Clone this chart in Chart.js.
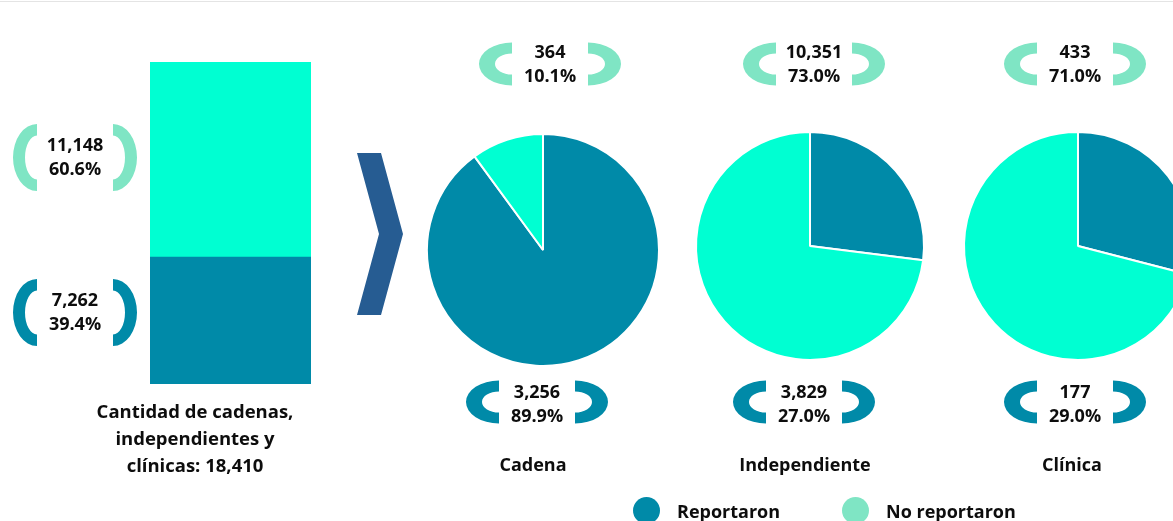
<!DOCTYPE html>
<html>
<head>
<meta charset="utf-8">
<script src="https://cdn.jsdelivr.net/npm/chart.js@4.4.1/dist/chart.umd.min.js"></script>
<style>
  html, body { margin: 0; padding: 0; background: #fff; }
  #wrap { position: relative; width: 1173px; height: 521px; overflow: hidden;
          font-family: "Open Sans", "Noto Sans", sans-serif; font-weight: 700; color: #0d0d0d; }
  #topline { position: absolute; left: 0; top: 1px; width: 1173px; height: 1px; background: #e4e4e4; }
  canvas { position: absolute; top: 0; }
  .caption { position: absolute; left: 75px; top: 397px; width: 240px; text-align: center;
             font-size: 18.5px; line-height: 27px; }
  .legend { position: absolute; top: 497px; height: 27px; display: flex; align-items: center; font-size: 18px; }
  .legend i { display: inline-block; width: 27px; height: 27px; border-radius: 50%; margin-right: 17px; }
</style>
</head>
<body>
<div id="wrap">
  <div id="topline"></div>
  <canvas id="bar" width="420" height="521" style="left:0"></canvas>
  <canvas id="pie0" width="260" height="521" style="left:413px"></canvas>
  <canvas id="pie1" width="260" height="521" style="left:680px"></canvas>
  <canvas id="pie2" width="260" height="521" style="left:948px"></canvas>
  <div class="caption" id="caption"></div>
  <div class="legend" style="left:633px"><i style="background:#008aa8"></i><span id="lg0"></span></div>
  <div class="legend" style="left:842px"><i style="background:#7fe5c4"></i><span id="lg1"></span></div>
</div>
<script>
(function () {
  "use strict";

  // ── Data ───────────────────────────────────────────────────
  const categories = ["Cadena", "Independiente", "Clínica"];
  const seriesNames = ["Reportaron", "No reportaron"];
  const reported = [3256, 3829, 177];
  const notReported = [364, 10351, 433];
  const reportedPct = [89.9, 27.0, 29.0];
  const notReportedPct = [10.1, 73.0, 71.0];

  const totalSeries = [7262, 11148];
  const totalPct = [39.4, 60.6];
  const totalCaption = ["Cantidad de cadenas,", "independientes y", "clínicas: 18,410"];

  // ── Style ──────────────────────────────────────────────────
  const DARK = "#008aa8";
  const CYAN = "#00ffd2";
  const MINT = "#7fe5c4";
  const NAVY = "#265c92";
  const TEXT = "#0d0d0d";
  const FONT = "bold 18px 'Open Sans', 'Noto Sans', sans-serif";

  const fmt = (v) => v.toLocaleString("en-US");
  const pct = (v) => v.toFixed(1) + "%";

  // half-ring "bracket": flat ends at fx, bulging to dir (-1 left, +1 right)
  function drawBrace(ctx, fx, cy, rxo, ryo, rxi, ryi, dir, color) {
    ctx.save();
    ctx.fillStyle = color;
    ctx.beginPath();
    if (dir < 0) {
      ctx.ellipse(fx, cy, rxo, ryo, 0, Math.PI / 2, Math.PI * 1.5, false);
      ctx.ellipse(fx, cy, rxi, ryi, 0, Math.PI * 1.5, Math.PI / 2, true);
    } else {
      ctx.ellipse(fx, cy, rxo, ryo, 0, -Math.PI / 2, Math.PI / 2, false);
      ctx.ellipse(fx, cy, rxi, ryi, 0, Math.PI / 2, -Math.PI / 2, true);
    }
    ctx.closePath();
    ctx.fill();
    ctx.restore();
  }

  function drawLabel(ctx, x, y, lines) {
    ctx.save();
    ctx.font = FONT;
    ctx.fillStyle = TEXT;
    ctx.textAlign = "center";
    ctx.textBaseline = "middle";
    ctx.fillText(lines[0], x, y - 12);
    ctx.fillText(lines[1], x, y + 12);
    ctx.restore();
  }

  // ── Stacked total bar ──────────────────────────────────────
  const barDecor = {
    id: "barDecor",
    afterDraw(chart) {
      const ctx = chart.ctx;
      const shift = [-8, -2];
      chart.data.datasets.forEach((ds, i) => {
        const el = chart.getDatasetMeta(i).data[0];
        const cy = (el.y + el.base) / 2 + shift[i];
        const lx = el.x - el.width / 2 - 75;
        const col = i === 0 ? DARK : MINT;
        drawBrace(ctx, lx - 38, cy, 24, 33.5, 12, 22, -1, col);
        drawBrace(ctx, lx + 38, cy, 24, 33.5, 12, 22, 1, col);
        drawLabel(ctx, lx, cy, [fmt(totalSeries[i]), pct(totalPct[i])]);
      });
      // chevron
      ctx.save();
      ctx.fillStyle = NAVY;
      ctx.beginPath();
      ctx.moveTo(357, 153);
      ctx.lineTo(381, 153);
      ctx.lineTo(403, 234);
      ctx.lineTo(381, 315);
      ctx.lineTo(357, 315);
      ctx.lineTo(379, 234);
      ctx.closePath();
      ctx.fill();
      ctx.restore();
    },
  };

  // ── Pie labels ─────────────────────────────────────────────
  const topDx = [7, 4, -3];
  const botDx = [-6, -6, -3];
  const titleDx = [-10, -5, -6];

  function pieDecor(idx) {
    return {
      id: "pieDecor" + idx,
      afterDraw(chart) {
        const ctx = chart.ctx;
        const arc = chart.getDatasetMeta(0).data[0];
        const cx = arc.x;
        const tx = cx + topDx[idx];
        drawBrace(ctx, tx - 38, 64, 33, 21.5, 17, 10.5, -1, MINT);
        drawBrace(ctx, tx + 38, 64, 33, 21.5, 17, 10.5, 1, MINT);
        drawLabel(ctx, tx, 65, [fmt(notReported[idx]), pct(notReportedPct[idx])]);
        const bx = cx + botDx[idx];
        drawBrace(ctx, bx - 38, 402, 33, 21.5, 17, 10.5, -1, DARK);
        drawBrace(ctx, bx + 38, 402, 33, 21.5, 17, 10.5, 1, DARK);
        drawLabel(ctx, bx, 405, [fmt(reported[idx]), pct(reportedPct[idx])]);
        ctx.save();
        ctx.font = FONT;
        ctx.fillStyle = TEXT;
        ctx.textAlign = "center";
        ctx.textBaseline = "middle";
        ctx.fillText(categories[idx], cx + titleDx[idx], 466);
        ctx.restore();
      },
    };
  }

  function init() {
    document.getElementById("caption").innerHTML = totalCaption.join("<br>");
    document.getElementById("lg0").textContent = seriesNames[0];
    document.getElementById("lg1").textContent = seriesNames[1];

    new Chart(document.getElementById("bar"), {
      type: "bar",
      data: {
        labels: [""],
        datasets: [
          { label: seriesNames[0], data: [totalSeries[0]], backgroundColor: DARK },
          { label: seriesNames[1], data: [totalSeries[1]], backgroundColor: CYAN },
        ],
      },
      options: {
        responsive: false,
        animation: false,
        barPercentage: 1,
        categoryPercentage: 1,
        layout: { padding: { left: 150, right: 109, top: 62, bottom: 137 } },
        plugins: { legend: { display: false }, tooltip: { enabled: false } },
        scales: {
          x: { stacked: true, display: false },
          y: { stacked: true, display: false, min: 0, max: totalSeries[0] + totalSeries[1] },
        },
      },
      plugins: [barDecor],
    });

    const radii = [116, 114, 114];
    const bottomPad = [21, 29, 29];
    categories.forEach((cat, i) => {
      new Chart(document.getElementById("pie" + i), {
        type: "pie",
        data: {
          labels: seriesNames,
          datasets: [{
            data: [reported[i], notReported[i]],
            backgroundColor: [DARK, CYAN],
            borderColor: "#ffffff",
            borderWidth: 2,
            hoverOffset: 0,
          }],
        },
        options: {
          responsive: false,
          animation: false,
          radius: radii[i],
          layout: { padding: { top: 0, bottom: bottomPad[i], left: 0, right: 0 } },
          plugins: { legend: { display: false }, tooltip: { enabled: false } },
        },
        plugins: [pieDecor(i)],
      });
    });
  }

  if (document.fonts && document.fonts.load) {
    document.fonts.load(FONT).then(init, init);
  } else {
    init();
  }
})();
</script>
</body>
</html>
